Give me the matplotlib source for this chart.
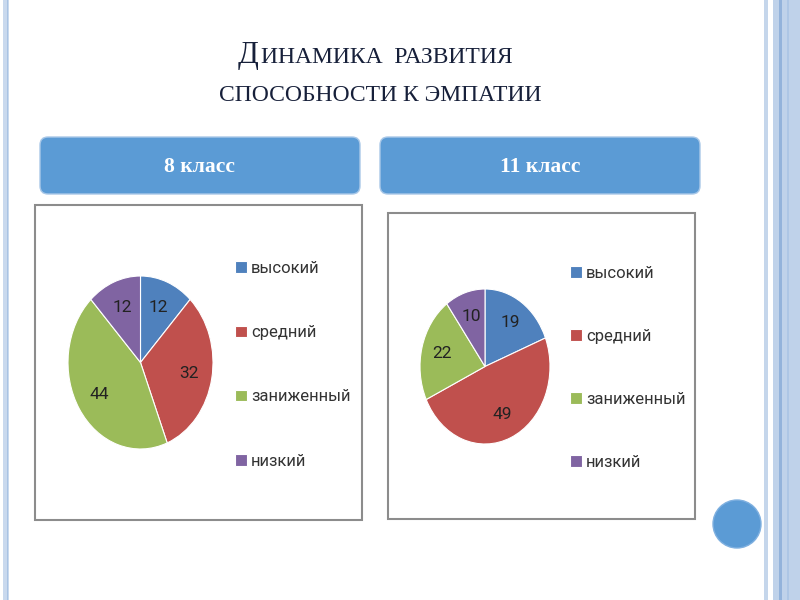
import matplotlib.pyplot as plt
from matplotlib.patches import Rectangle, FancyBboxPatch, Circle

categories = ["высокий", "средний", "заниженный", "низкий"]
grade8 = [12, 32, 44, 12]
grade11 = [19, 49, 22, 10]
panel_titles = ["8 класс", "11 класс"]
colors = ["#4F81BD", "#C0504D", "#9BBB59", "#8064A2"]

W, H = 800, 600
fig = plt.figure(figsize=(8, 6), dpi=100)
bg = fig.add_axes([0, 0, 1, 1])
bg.set_xlim(0, W)
bg.set_ylim(H, 0)
bg.axis("off")


def frac(x0, y0, x1, y1):
    # pixel box (top-left origin) -> figure fraction rect
    return [x0 / W, 1 - y1 / H, (x1 - x0) / W, (y1 - y0) / H]


# slide border stripes
bg.add_patch(Rectangle((3, 0), 6, H, color="#c9d9ee", lw=0))
bg.add_patch(Rectangle((6.5, 0), 1.2, H, color="#a9c3e3", lw=0))
bg.add_patch(Rectangle((764, 0), 3.5, H, color="#c5d6eb", lw=0))
bg.add_patch(Rectangle((773, 0), 27, H, color="#bfd2ea", lw=0))
bg.add_patch(Rectangle((779, 0), 2.5, H, color="#93b3db", lw=0))
bg.add_patch(Rectangle((787, 0), 1.5, H, color="#adc6e5", lw=0))

# title in imitation small caps
tcol = "#17203a"
bg.text(259, 63, "Д", fontsize=22, family="Liberation Serif", color=tcol,
        ha="right", va="baseline")
bg.text(261, 63, "ИНАМИКА  РАЗВИТИЯ", fontsize=17, family="Liberation Serif",
        color=tcol, ha="left", va="baseline")
bg.text(380, 101, "СПОСОБНОСТИ К ЭМПАТИИ", fontsize=17, family="Liberation Serif",
        color=tcol, ha="center", va="baseline")

# header boxes
for x0, title in zip([40, 380], panel_titles):
    bg.add_patch(FancyBboxPatch((x0, 137), 320, 57,
                                boxstyle="round,pad=0,rounding_size=8",
                                fc="#5b9bd5", ec="#a9c8e8", lw=1))
    bg.text(x0 + 160, 167, title, fontsize=15.5, weight="bold",
            family="Liberation Serif", color="white", ha="center", va="center")

# chart frames
bg.add_patch(Rectangle((35, 205), 327, 315, fc="white", ec="#8c8c8c", lw=1.5))
bg.add_patch(Rectangle((388, 213), 307, 306, fc="white", ec="#8c8c8c", lw=1.5))

# decorative circle
bg.add_patch(Circle((737, 524), 24, fc="#5b9bd5", ec="#7fb0e0", lw=1))


def draw_pie(rect, values, legend_xy, spacing):
    ax = fig.add_axes(rect)
    wedges, texts = ax.pie(values, colors=colors, startangle=90, counterclock=False,
                           labels=[str(v) for v in values], labeldistance=0.68,
                           wedgeprops=dict(edgecolor="white", linewidth=0.8),
                           textprops=dict(fontsize=12.5, family="Roboto", color="#222222"))
    for t in texts:
        t.set_ha("center")
        t.set_va("center")
    ax.set_aspect("auto")
    ax.set_xlim(-1, 1)
    ax.set_ylim(-1, 1)
    fig.legend(wedges, categories, loc="upper left",
               bbox_to_anchor=(legend_xy[0] / W, 1 - legend_xy[1] / H),
               bbox_transform=fig.transFigure, frameon=False,
               borderpad=0, borderaxespad=0, handlelength=0.7, handleheight=0.7,
               handletextpad=0.25, labelspacing=spacing,
               prop=dict(family="Roboto", size=12), labelcolor="#333333")


draw_pie(frac(68, 276, 213, 449), grade8, (235, 261), 2.95)
draw_pie(frac(420, 289, 550, 444), grade11, (570, 266), 2.88)

fig.savefig("out.png", dpi=100)
